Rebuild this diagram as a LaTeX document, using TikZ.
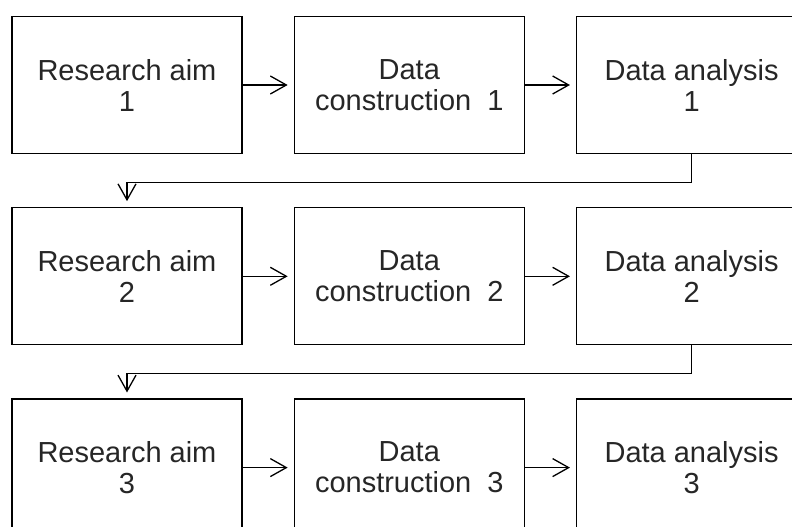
\documentclass[tikz,border=0pt]{standalone}
\usepackage{fontspec}
\setmainfont{Liberation Sans}
\usetikzlibrary{positioning}
\usetikzlibrary{arrows.meta}
\tikzstyle{stage}=[draw, rectangle, line width=1.3pt, minimum width=230pt, minimum height=137pt, inner sep=0pt, align=center, text=black!85, font=\fontsize{29}{31}\selectfont]
\tikzstyle{link}=[line width=1.3pt, -{Straight Barb[length=16pt, width=18pt]}, shorten >=6pt]

\begin{document}
\begin{tikzpicture}[x=1pt, y=-1pt, node distance=53pt and 51pt]
            \useasboundingbox (0,0) rectangle (792,527);
            \clip (0,0) rectangle (792,527);

            \node[stage] (aim1) at (127,85) {Research aim\\1};
            \node[stage, right=of aim1] (con1) {Data\\construction\ \ 1};
            \node[stage, right=of con1] (ana1) {Data analysis\\1};
            \node[stage, below=of aim1] (aim2) {Research aim\\2};
            \node[stage, right=of aim2] (con2) {Data\\construction\ \ 2};
            \node[stage, right=of con2] (ana2) {Data analysis\\2};
            \node[stage, below=of aim2] (aim3) {Research aim\\3};
            \node[stage, right=of aim3] (con3) {Data\\construction\ \ 3};
            \node[stage, right=of con3] (ana3) {Data analysis\\3};

            \draw[link] (aim1) -- (con1);
            \draw[link] (con1) -- (ana1);
            \draw[link] (aim2) -- (con2);
            \draw[link] (con2) -- (ana2);
            \draw[link] (aim3) -- (con3);
            \draw[link] (con3) -- (ana3);

            \draw[link] (ana1.south) -- ++(0,28) -| (aim2.north);
            \draw[link] (ana2.south) -- ++(0,28) -| (aim3.north);
        \end{tikzpicture}
\end{document}
